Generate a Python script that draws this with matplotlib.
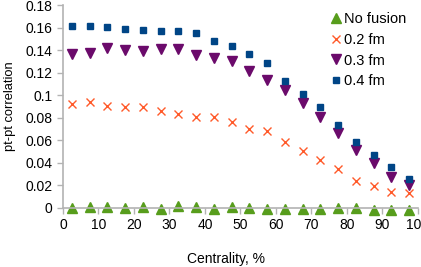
import matplotlib.pyplot as plt

plt.rcParams['font.family'] = ['Liberation Sans', 'DejaVu Sans']
plt.rcParams['font.size'] = 10

# the data
centrality = [2.5, 7.5, 12.5, 17.5, 22.5, 27.5, 32.5, 37.5, 42.5, 47.5,
              52.5, 57.5, 62.5, 67.5, 72.5, 77.5, 82.5, 87.5, 92.5, 97.5]
no_fusion = [-0.0003, 0.0009, 0.0012, 0.0003, 0.0012, -0.0009, 0.002, 0.0012, -0.0012, 0.0006,
             0.0003, -0.0012, -0.0009, -0.0012, -0.0009, 0.0003, -0.0003, -0.0018, -0.0018, -0.002]
fm02 = [0.092, 0.094, 0.091, 0.090, 0.0895, 0.086, 0.0836, 0.0806, 0.0812, 0.0767,
        0.070, 0.0684, 0.059, 0.0507, 0.0424, 0.0347, 0.024, 0.0196, 0.0142, 0.0136]
fm03 = [0.137, 0.138, 0.142, 0.140, 0.139, 0.141, 0.141, 0.136, 0.133, 0.131,
        0.122, 0.1135, 0.105, 0.0936, 0.081, 0.0664, 0.0516, 0.0403, 0.0276, 0.0204]
fm04 = [0.162, 0.162, 0.161, 0.159, 0.158, 0.157, 0.157, 0.155, 0.148, 0.144,
        0.137, 0.129, 0.113, 0.101, 0.090, 0.074, 0.059, 0.047, 0.036, 0.026]

fig = plt.figure(figsize=(4.21, 2.67), dpi=100)
ax = fig.add_axes([0.1496, 0.221, 0.843, 0.759])

ax.plot(centrality, no_fusion, linestyle='none', marker='^', markersize=6.5,
        color='#579d1c', label='No fusion', clip_on=False)
ax.plot(centrality, fm02, linestyle='none', marker='x', markersize=5.5, markeredgewidth=1,
        color='#ff5a2a', label='0.2 fm', clip_on=False)
ax.plot(centrality, fm03, linestyle='none', marker='v', markersize=6.5,
        color='#6b0a6b', label='0.3 fm', clip_on=False)
ax.plot(centrality, fm04, linestyle='none', marker='s', markersize=4.3,
        color='#004586', label='0.4 fm', clip_on=False)

ax.set_xlim(0, 100)
ax.set_ylim(0, 0.18)
ax.set_xticks(range(0, 101, 10))
ax.set_yticks([0, 0.02, 0.04, 0.06, 0.08, 0.1, 0.12, 0.14, 0.16, 0.18])
ax.set_yticklabels(['0', '0.02', '0.04', '0.06', '0.08', '0.1', '0.12', '0.14', '0.16', '0.18'])

for side in ['top', 'right']:
    ax.spines[side].set_visible(False)
for side in ['left', 'bottom']:
    ax.spines[side].set_color('#b3b3b3')
    ax.spines[side].set_linewidth(1.2)
ax.tick_params(axis='both', colors='#b3b3b3', labelcolor='black', length=4, width=1, labelsize=10)

ax.set_xlabel('Centrality, %')
ax.xaxis.set_label_coords(0.459, -0.215)
ax.set_ylabel('pt-pt correlation', fontsize=9.3, labelpad=7)

ax.legend(loc='upper right', bbox_to_anchor=(1.005, 1.03), frameon=False,
          handletextpad=0.1, handlelength=1, labelspacing=0.45, fontsize=10.5)

fig.savefig('out.png', dpi=100)
